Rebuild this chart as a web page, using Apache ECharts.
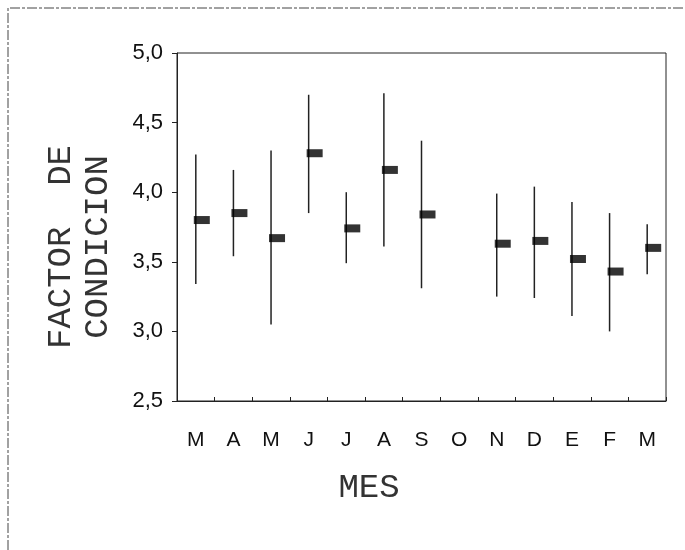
<!DOCTYPE html>
<html>
<head>
<meta charset="utf-8">
<script src="https://cdn.jsdelivr.net/npm/echarts@6/dist/echarts.min.js"></script>
<style>
  html, body {margin:0; padding:0; background:#fff;}
  #chart {width:685px; height:550px;}
</style>
</head>
<body>
<div id="chart"></div>
<script>
// meses de marzo a marzo; octubre sin muestra
const months = ['M', 'A', 'M', 'J', 'J', 'A', 'S', 'O', 'N', 'D', 'E', 'F', 'M'];
const means = [3.80, 3.85, 3.67, 4.28, 3.74, 4.16, 3.84, null, 3.63, 3.65, 3.52, 3.43, 3.60];
const lows  = [3.34, 3.54, 3.05, 3.85, 3.49, 3.61, 3.31, null, 3.25, 3.24, 3.11, 3.00, 3.41];
const highs = [4.27, 4.16, 4.30, 4.70, 4.00, 4.71, 4.37, null, 3.99, 4.04, 3.93, 3.85, 3.77];
const yTicks = [2.5, 3.0, 3.5, 4.0, 4.5, 5.0];

let rangeData = [];
let meanData = [];
months.forEach((m, i) => {
    if (means[i] == null) return;
    rangeData.push([i, lows[i], highs[i]]);
    meanData.push([i, means[i]]);
});

const chart = echarts.init(document.getElementById('chart'));
const monoFont = '"Liberation Mono", "DejaVu Sans Mono", monospace';
const sansFont = 'Liberation Sans, Arial, sans-serif';

let options = {
    backgroundColor: '#fff',
    animation: false,
    grid: {
        left: 177, top: 53, right: 19, bottom: 149,
        show: true, borderColor: '#222', borderWidth: 1
    },
    xAxis: {
        type: 'category',
        data: months,
        boundaryGap: true,
        axisLine: {lineStyle: {color: '#222', width: 1}},
        axisTick: {show: true, inside: true, length: 4, lineStyle: {color: '#222'}},
        axisLabel: {color: '#111', fontSize: 21, fontFamily: sansFont, margin: 29, interval: 0},
        splitLine: {show: false}
    },
    yAxis: {
        type: 'value',
        min: yTicks[0],
        max: yTicks[yTicks.length - 1],
        interval: 0.5,
        axisLine: {show: true, lineStyle: {color: '#222', width: 1}},
        axisTick: {show: true, length: 5, lineStyle: {color: '#222'}},
        axisLabel: {
            color: '#111', fontSize: 22, fontFamily: sansFont, margin: 14,
            formatter: v => v.toFixed(1).replace('.', ',')
        },
        splitLine: {show: false}
    },
    graphic: [
        // marco exterior de la hoja escaneada
        {type: 'polyline', shape: {points: [[8, 550], [8, 8], [685, 8]]},
         style: {stroke: '#444', lineWidth: 1, fill: null, lineDash: [10, 2, 3, 2]}},
        {type: 'text', x: 61, y: 247, rotation: Math.PI / 2,
         style: {text: 'FACTOR  DE', font: '34px ' + monoFont, fill: '#333',
                 textAlign: 'center', textVerticalAlign: 'middle'}},
        {type: 'text', x: 98, y: 247, rotation: Math.PI / 2,
         style: {text: 'CONDICION', font: '34px ' + monoFont, fill: '#333',
                 textAlign: 'center', textVerticalAlign: 'middle'}},
        {type: 'text', x: 369, y: 488,
         style: {text: 'MES', font: '34px ' + monoFont, fill: '#333',
                 textAlign: 'center', textVerticalAlign: 'middle'}}
    ],
    series: [
        {
            type: 'custom',
            silent: true,
            data: rangeData,
            encode: {x: 0, y: [1, 2]},
            renderItem: (params, api) => {
                let p0 = api.coord([api.value(0), api.value(1)]);
                let p1 = api.coord([api.value(0), api.value(2)]);
                return {
                    type: 'line',
                    shape: {x1: p0[0], y1: p0[1], x2: p1[0], y2: p1[1]},
                    style: {stroke: '#222', lineWidth: 1.5}
                };
            }
        },
        {
            type: 'scatter',
            silent: true,
            data: meanData,
            symbol: 'rect',
            symbolSize: [16, 8],
            symbolOffset: [6, 0],
            itemStyle: {color: '#000'},
            z: 3
        }
    ]
};
chart.setOption(options);
</script>
</body>
</html>
